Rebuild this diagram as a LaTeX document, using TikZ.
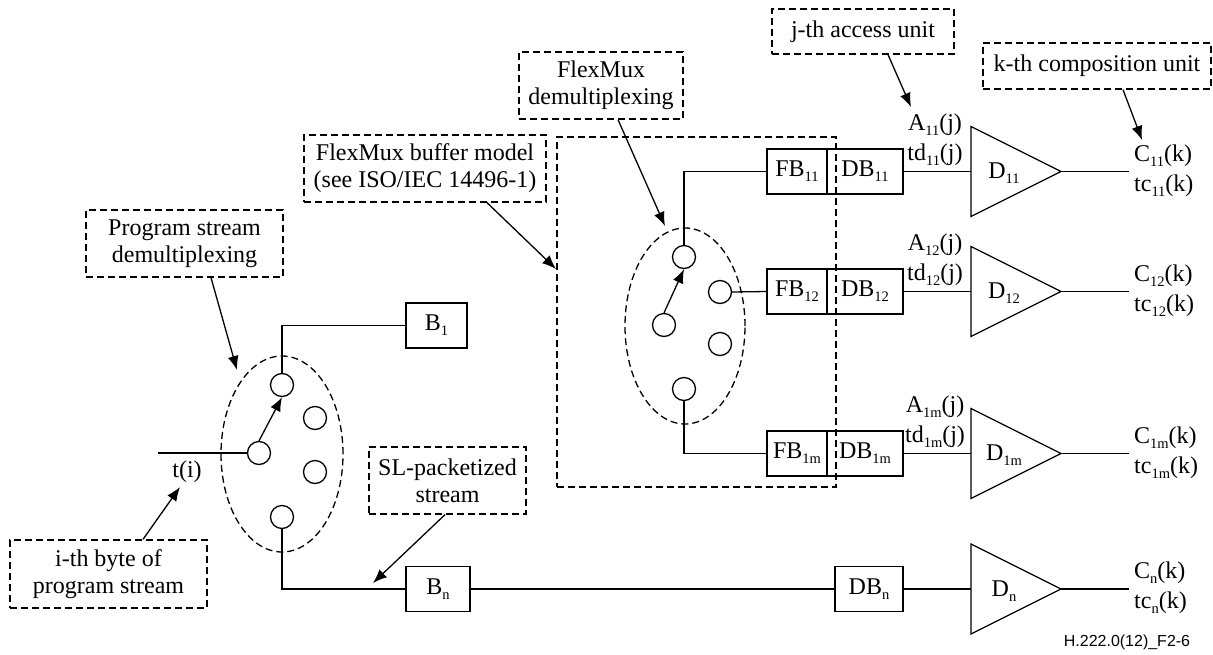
\documentclass[tikz,border=0pt]{standalone}
\usepackage{fontspec}
\setmainfont{Liberation Serif}
\setsansfont{Liberation Sans}
\usetikzlibrary{shapes.geometric,arrows.meta,calc}
\newcommand\dsub[1]{\raisebox{-5pt}{\fontsize{14.5}{14.5}\selectfont #1}}
\begin{document}
\begin{tikzpicture}[x=1pt,y=-1pt,
  every node/.style={font=\fontsize{24}{27}\selectfont},
  lw/.style={line width=1.3pt},
  box/.style={draw,lw,inner sep=0,minimum height=45pt},
  lab/.style={draw,lw,dash pattern=on 7pt off 4pt,align=center,inner sep=0},
  sw/.style={draw,circle,lw,minimum size=23pt,inner sep=0},
  arr/.style={lw,-{Latex[length=14pt,width=11pt]}},
  dsh/.style={lw,dash pattern=on 7pt off 4pt},
  oel/.style={draw,ellipse,dsh,inner sep=0},
]
\useasboundingbox (0,0) rectangle (1213,654);

% ---------- label boxes ----------
\node[lab,minimum width=182pt,minimum height=45pt] (jth) at (863,31.5) {j-th access unit};
\node[lab,minimum width=228pt,minimum height=46pt] (kth) at (1097,66) {k-th composition unit};
\node[lab,minimum width=164pt,minimum height=67pt] (fdem) at (601,85.5) {FlexMux\\demultiplexing};
\node[lab,minimum width=242pt,minimum height=67pt] (fbuf) at (425,168.5) {FlexMux buffer model\\(see ISO/IEC 14496-1)};
\node[lab,minimum width=197pt,minimum height=67pt] (psd) at (184.5,243.5) {Program stream\\demultiplexing};
\node[lab,minimum width=197pt,minimum height=68pt] (ith) at (108.5,574) {i-th byte of\\program stream};
\node[lab,minimum width=157pt,minimum height=67pt] (slp) at (447.5,480.5) {SL-packetized\\stream};

% ---------- FlexMux area ----------
\node[draw,dsh,minimum width=279pt,minimum height=350pt,inner sep=0] (farea) at (696.5,312) {};

% ---------- program stream demux switch ----------
\node[oel,minimum width=122pt,minimum height=196pt] (pell) at (282,454) {};
\node[sw] (c1) at (282,385) {};
\node[sw] (c2) at (315,418) {};
\node[sw] (c0) at (259,453) {};
\node[sw] (c3) at (315,472) {};
\node[sw] (c4) at (282,517) {};
\coordinate (tin) at (158,453);
\node (ti) at (187,472) {t(i)};
\draw[lw] (tin) -- (c0.west);
\draw[arr] (c0.north) -- (c1.south);

\node[box,minimum width=61pt] (B1) at (436.5,325.5) {B\dsub{1}};
\node[box,minimum width=64pt] (Bn) at (438,589) {B\dsub{n}};
\draw[lw] (c1.north) |- (B1.west);
\draw[lw] (c4.south) |- (Bn.west);

% ---------- FlexMux demux switch ----------
\node[oel,minimum width=120pt,minimum height=196pt] (fell) at (685,326) {};
\node[sw] (f1) at (684,257) {};
\node[sw] (f2) at (720,292) {};
\node[sw] (f0) at (664,325) {};
\node[sw] (f3) at (720,344) {};
\node[sw] (f4) at (684,389) {};
\draw[arr] (f0.north) -- (f1.south);

% ---------- decoder rows ----------
\foreach \s/\y in {11/171.5,12/291.5,1m/453.5}{
  \node[box,minimum width=60pt] (FB\s) at (797,\y) {FB\dsub{\s}};
  \node[box,minimum width=76pt] (DB\s) at (865,\y) {DB\dsub{\s}};
  \coordinate (Din\s) at (971,\y);
  \coordinate (Dout\s) at (1061,\y);
  \coordinate (Cend\s) at (1129,\y);
  \draw[lw] (971,\y-45) -- (Dout\s) -- (971,\y+45) -- cycle;
  \node (D\s) at (1004,\y+2) {D\dsub{\s}};
  \draw[lw] (DB\s) -- (Din\s);
  \draw[lw] (Dout\s) -- (Cend\s);
  \node (A\s) at (935,\y-47) {A\dsub{\s}(j)};
  \node (td\s) at (935,\y-17) {td\dsub{\s}(j)};
  \node[anchor=west,inner sep=0] (C\s) at (1134,\y-16) {C\dsub{\s}(k)};
  \node[anchor=west,inner sep=0] (tc\s) at (1134,\y+14) {tc\dsub{\s}(k)};
}
\draw[lw] (f1.north) |- (FB11.west);
\draw[lw] (f2.east) -- (FB12.west);
\draw[lw] (f4.south) |- (FB1m.west);

% row n
\node[box,minimum width=68pt] (DBn) at (869,589) {DB\dsub{n}};
\coordinate (Dinn) at (971,589);
\coordinate (Doutn) at (1061,589);
\coordinate (Cendn) at (1129,589);
\draw[lw] (971,544) -- (Doutn) -- (971,634) -- cycle;
\node (Dn) at (1004,591) {D\dsub{n}};
\draw[lw] (Bn) -- (DBn);
\draw[lw] (DBn) -- (Dinn);
\draw[lw] (Doutn) -- (Cendn);
\node[anchor=west,inner sep=0] (Cn) at (1134,573) {C\dsub{n}(k)};
\node[anchor=west,inner sep=0] (tcn) at (1134,603) {tc\dsub{n}(k)};

% ---------- annotation arrows ----------
\coordinate (ja) at (911,107);
\coordinate (ka) at (1142,140);
\coordinate (fdema) at (665,226);
\coordinate (fbufa) at (556,269);
\coordinate (psda) at (237,370);
\coordinate (itha) at (180,487);
\coordinate (slpa) at (373,583);
\draw[arr] ([xshift=25pt]jth.south) -- (ja);
\draw[arr] ([xshift=26pt]kth.south) -- (ka);
\draw[arr] ([xshift=17pt]fdem.south) -- (fdema);
\draw[arr] ([xshift=62pt]fbuf.south) -- (fbufa);
\draw[arr] ([xshift=26.5pt]psd.south) -- (psda);
\draw[arr] ([xshift=34.5pt]ith.north) -- (itha);
\draw[arr] ([xshift=-2.5pt]slp.south) -- (slpa);

\node[font=\sffamily\fontsize{16}{18}\selectfont] (fig) at (1127,642) {H.222.0(12)\_F2-6};
\end{tikzpicture}
\end{document}
